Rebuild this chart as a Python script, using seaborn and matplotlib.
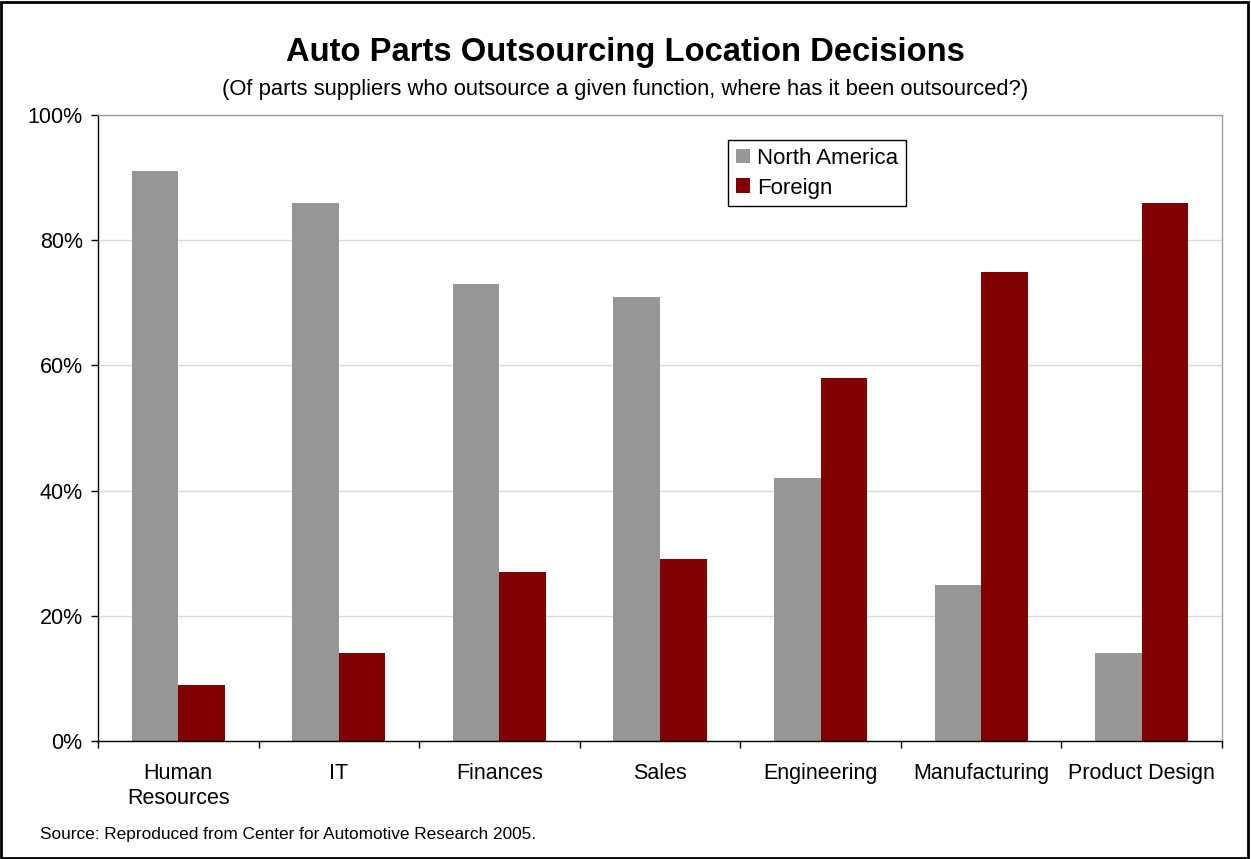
import matplotlib
matplotlib.use("Agg")
import matplotlib.pyplot as plt
import seaborn as sns
import pandas as pd
from matplotlib.ticker import FuncFormatter, MultipleLocator
from matplotlib.patches import Rectangle

categories = ["Human\nResources", "IT", "Finances", "Sales", "Engineering", "Manufacturing", "Product Design"]
north_america = [91, 86, 73, 71, 42, 25, 14]
foreign = [9, 14, 27, 29, 58, 75, 86]
series_names = ["North America", "Foreign"]
colors = ["#969696", "#800000"]

df = pd.DataFrame({
    "Function": categories * 2,
    "Series": [series_names[0]] * len(categories) + [series_names[1]] * len(categories),
    "Value": north_america + foreign,
})

sns.set_theme(style="white")
plt.rcParams["font.family"] = ["Liberation Sans", "DejaVu Sans"]
plt.rcParams["text.color"] = "black"
plt.rcParams["xtick.color"] = "black"
plt.rcParams["ytick.color"] = "black"

fig = plt.figure(figsize=(12.51, 8.59), dpi=100)
ax = fig.add_axes([98 / 1251, 1 - 741 / 859, (1222 - 98) / 1251, (741 - 115) / 859])

sns.barplot(data=df, x="Function", y="Value", hue="Series", palette=colors,
            width=0.58, saturation=1, ax=ax, order=categories, hue_order=series_names,
            linewidth=0, edgecolor="none")

ax.set_ylim(0, 100)
ax.set_xlim(-0.5, len(categories) - 0.5)
ax.yaxis.set_major_locator(MultipleLocator(20))
ax.yaxis.set_major_formatter(FuncFormatter(lambda v, p: f"{int(v)}%"))
ax.set_xlabel("")
ax.set_ylabel("")
ax.grid(axis="y", color="#d9d9d9", linewidth=1)
ax.set_axisbelow(True)

for s in ["top", "right"]:
    ax.spines[s].set_color("#a0a0a0")
    ax.spines[s].set_linewidth(1)
for s in ["left", "bottom"]:
    ax.spines[s].set_color("black")
    ax.spines[s].set_linewidth(1)

ax.tick_params(axis="y", which="major", direction="out", length=5, width=1, color="black",
               labelsize=15.5, pad=6, left=True, labelcolor="black")
ax.tick_params(axis="x", which="major", length=0, labelsize=15.5, pad=16, labelcolor="black")
ax.set_xticks(range(len(categories)))
ax.set_xticklabels(categories, linespacing=1.22, va="top")
ax.set_xticks([i - 0.5 for i in range(len(categories) + 1)], minor=True)
ax.tick_params(axis="x", which="minor", direction="out", length=5, width=1, color="black", bottom=True)

leg = ax.legend(loc="upper left", bbox_to_anchor=((728 - 98) / 1124, (741 - 140) / 626),
                frameon=True, fontsize=16, handlelength=0.65, handleheight=0.65,
                handletextpad=0.3, borderpad=0.35, labelspacing=0.4, borderaxespad=0)
leg.get_frame().set_edgecolor("black")
leg.get_frame().set_linewidth(1)
leg.get_frame().set_boxstyle("square", pad=0)
leg.get_frame().set_facecolor("white")
leg.get_frame().set_alpha(1)
for t in leg.get_texts():
    t.set_color("black")

fig.text(0.5, 1 - 52 / 859, "Auto Parts Outsourcing Location Decisions", ha="center", va="center",
         fontsize=23.6, fontweight="bold", color="black")
fig.text(0.5, 1 - 89 / 859, "(Of parts suppliers who outsource a given function, where has it been outsourced?)",
         ha="center", va="center", fontsize=15.8, color="black")
fig.text(40 / 1251, 1 - 834 / 859, "Source: Reproduced from Center for Automotive Research 2005.",
         ha="left", va="center", fontsize=12.4, color="black")

fig.patches.append(Rectangle((0.001, 0.001), 0.997, 0.997, transform=fig.transFigure,
                             fill=False, edgecolor="black", linewidth=2))

fig.savefig("out.png", dpi=100, facecolor="white")
